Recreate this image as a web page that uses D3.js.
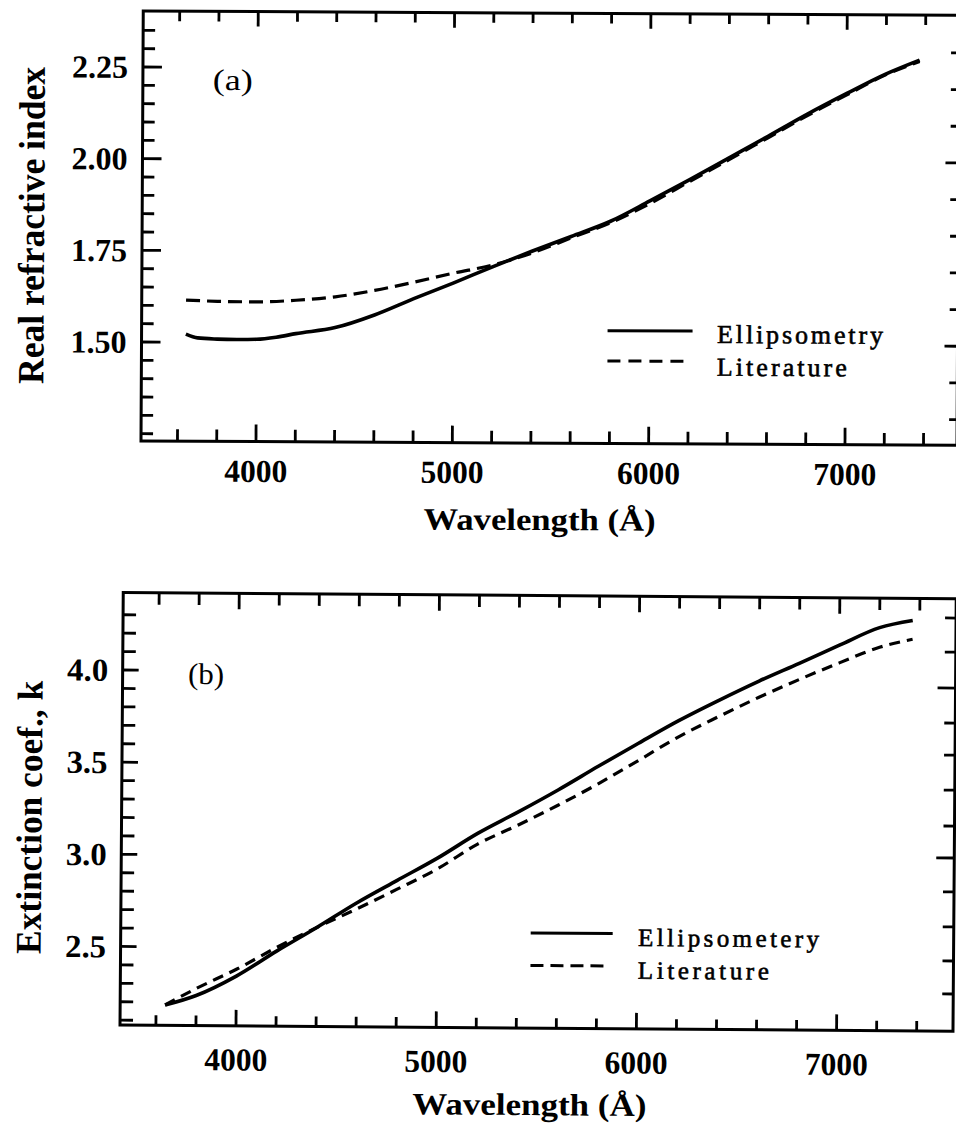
<!DOCTYPE html>
<html>
<head>
<meta charset="utf-8">
<script src="https://cdn.jsdelivr.net/npm/d3@7"></script>
<style>
  body { margin: 0; background: #fff; }
  text { fill: #000; }
</style>
</head>
<body>
<div id="chart"></div>
<script>
// ---- data ----

// (a) real refractive index
const wlEllA = [3640, 3700, 3800, 3900, 4000, 4100, 4200, 4400, 4600, 4800, 5000, 5200, 5400, 5600, 5800, 6000, 6200, 6400, 6600, 6800, 7000, 7200, 7370];
const nEll   = [1.522, 1.512, 1.509, 1.508, 1.509, 1.515, 1.525, 1.542, 1.577, 1.622, 1.665, 1.710, 1.753, 1.794, 1.836, 1.892, 1.950, 2.010, 2.070, 2.131, 2.188, 2.242, 2.280];
const wlLitA = [3640, 3800, 4000, 4200, 4400, 4600, 4800, 5000, 5200, 5400, 5600, 5800, 6000, 6200, 6400, 6600, 6800, 7000, 7200, 7370];
const nLit   = [1.615, 1.612, 1.611, 1.616, 1.626, 1.644, 1.667, 1.692, 1.715, 1.748, 1.790, 1.832, 1.885, 1.945, 2.005, 2.066, 2.127, 2.184, 2.240, 2.276];

// (b) extinction coefficient
const wlB  = [3645, 3800, 4000, 4200, 4400, 4600, 4800, 5000, 5200, 5400, 5600, 5800, 6000, 6200, 6400, 6600, 6800, 7000, 7200, 7365];
const kEll = [2.184, 2.237, 2.344, 2.481, 2.611, 2.747, 2.870, 2.992, 3.128, 3.245, 3.367, 3.497, 3.624, 3.748, 3.860, 3.966, 4.064, 4.164, 4.261, 4.301];
const kLit = [2.184, 2.275, 2.381, 2.501, 2.611, 2.714, 2.822, 2.934, 3.070, 3.174, 3.284, 3.402, 3.530, 3.660, 3.772, 3.878, 3.976, 4.068, 4.154, 4.199];

// ticks
const xMajor = [4000, 5000, 6000, 7000];
const xMinor = d3.range(3600, 7401, 200);
const yMajorA = [1.50, 1.75, 2.00, 2.25];
const yMinorA = d3.range(1.25, 2.351, 0.05);
const yRightA = d3.range(1.3, 2.31, 0.1);
const yRightMajorA = [1.5, 2.0];
const yMajorB = [2.5, 3.0, 3.5, 4.0];
const yMinorB = d3.range(2.1, 4.31, 0.1);
const yRightB = [4.316, 4.131, 3.936, 3.746, 3.572, 3.382, 3.187, 3.014, 2.830, 2.640, 2.455, 2.276];
const yRightMajorB = [3.936, 3.014];

const SERIF = "'Liberation Serif', 'Times New Roman', Times, 'DejaVu Serif', serif";

const svg = d3.select("#chart").append("svg")
  .attr("width", 956).attr("height", 1125);

const panels = [
  {
    tag: "(a)", ytitle: "Real refractive index", legend: ["Ellipsometry", "Literature"],
    left: 141, right: 957, top: 11, bottom: 441, angle: 0.30,
    xDomain: [3414.3, 7570.5], yDomain: [1.23, 2.4027],
    ell: wlEllA.map((w, i) => [w, nEll[i]]), lit: wlLitA.map((w, i) => [w, nLit[i]]),
    yMajor: yMajorA, yMinor: yMinorA, yRight: yRightA, yRightMajor: yRightMajorA, fmt: d3.format(".2f"),
    tick: {leftMaj: 19, leftMin: 12, botMaj: 17, botMin: 12, topMaj: 15, topMin: 10, rMaj: 13, rMin: 8},
    yLabelRight: 126, yLabelLen: 56, xLabelDy: 40.4, xTitleY: 528, xTitleX: 540, xTitleLen: 232,
    yTitleX: 43, yTitleY: 226, yTitleLen: 317, yTitleSize: 37,
    tagX: 211, tagY: 89.6, tagLen: 40, dash: "14,7",
    leg: {x1: 607, x2: 692, x2d: 686, y1: 328.2, y2: 358.5, tx: 716.5, ty1: 340, ty2: 372.7, size: 26, len1: 166, len2: 130, dash: "13,8"}
  },
  {
    tag: "(b)", ytitle: "Extinction coef., k", legend: ["Ellipsometery", "Literature"],
    left: 120, right: 953, top: 592.4, bottom: 1025, angle: 0.43,
    xDomain: [3420.6, 7581.4], yDomain: [2.0738, 4.4211],
    ell: wlB.map((w, i) => [w, kEll[i]]), lit: wlB.map((w, i) => [w, kLit[i]]),
    yMajor: yMajorB, yMinor: yMinorB, yRight: yRightB, yRightMajor: yRightMajorB, fmt: d3.format(".1f"),
    tick: {leftMaj: 16, leftMin: 13, botMaj: 16, botMin: 10, topMaj: 16, topMin: 12, rMaj: 18, rMin: 11},
    yLabelRight: 105.5, yLabelLen: 41, xLabelDy: 44.7, xTitleY: 1112, xTitleX: 530, xTitleLen: 234,
    yTitleX: 40, yTitleY: 818, yTitleLen: 273, yTitleSize: 36,
    tagX: 185.4, tagY: 683.5, tagLen: 36, dash: "11,7",
    leg: {x1: 530, x2: 612, x2d: 606, y1: 929.9, y2: 962.3, tx: 637.4, ty1: 942.1, ty2: 974.8, size: 25, len1: 181, len2: 131, dash: "13,7"}
  }
];

panels.forEach(p => {
  const x = d3.scaleLinear().domain(p.xDomain).range([p.left, p.right]);
  const y = d3.scaleLinear().domain(p.yDomain).range([p.bottom, p.top]);

  // the scanned figure is slightly rotated
  const g = svg.append("g")
    .attr("transform", `rotate(${p.angle},${p.left},${p.bottom})`);

  // frame
  g.append("rect")
    .attr("x", p.left).attr("y", p.top)
    .attr("width", p.right - p.left).attr("height", p.bottom - p.top)
    .attr("fill", "none").attr("stroke", "#000").attr("stroke-width", 3);

  const tk = g.append("g").attr("stroke", "#000").attr("stroke-width", 2.8);
  const isMajorX = v => xMajor.some(m => Math.abs(m - v) < 1e-6);
  const isMajorY = v => p.yMajor.some(m => Math.abs(m - v) < 1e-6);
  const isRightMajor = v => p.yRightMajor.some(m => Math.abs(m - v) < 1e-6);

  // bottom and top ticks
  tk.selectAll(".xb").data(xMinor).join("line")
    .attr("x1", d => x(d)).attr("x2", d => x(d))
    .attr("y1", p.bottom).attr("y2", d => p.bottom - (isMajorX(d) ? p.tick.botMaj : p.tick.botMin));
  tk.selectAll(".xt").data(xMinor).join("line")
    .attr("x1", d => x(d)).attr("x2", d => x(d))
    .attr("y1", p.top).attr("y2", d => p.top + (isMajorX(d) ? p.tick.topMaj : p.tick.topMin));
  // left ticks
  tk.selectAll(".yl").data(p.yMinor).join("line")
    .attr("y1", d => y(d)).attr("y2", d => y(d))
    .attr("x1", p.left).attr("x2", d => p.left + (isMajorY(d) ? p.tick.leftMaj : p.tick.leftMin));
  // right ticks
  tk.selectAll(".yr").data(p.yRight).join("line")
    .attr("y1", d => y(d)).attr("y2", d => y(d))
    .attr("x1", p.right).attr("x2", d => p.right - (isRightMajor(d) ? p.tick.rMaj : p.tick.rMin));

  // tick labels
  g.selectAll(".xlab").data(xMajor).join("text")
    .attr("x", d => x(d)).attr("y", p.bottom + p.xLabelDy)
    .attr("text-anchor", "middle")
    .style("font-family", SERIF).attr("font-weight", "bold")
    .attr("font-size", 32)
    .attr("textLength", 63).attr("lengthAdjust", "spacingAndGlyphs")
    .text(d => d);
  g.selectAll(".ylab").data(p.yMajor).join("text")
    .attr("x", p.yLabelRight).attr("y", d => y(d) + 11)
    .attr("text-anchor", "end")
    .style("font-family", SERIF).attr("font-weight", "bold")
    .attr("font-size", 32)
    .attr("textLength", p.yLabelLen).attr("lengthAdjust", "spacingAndGlyphs")
    .text(d => p.fmt(d));

  // axis titles
  g.append("text")
    .attr("x", p.xTitleX).attr("y", p.xTitleY)
    .attr("text-anchor", "middle")
    .style("font-family", SERIF).attr("font-weight", "bold")
    .attr("font-size", 31)
    .attr("textLength", p.xTitleLen).attr("lengthAdjust", "spacingAndGlyphs")
    .text("Wavelength (Å)");
  g.append("text")
    .attr("transform", `translate(${p.yTitleX},${p.yTitleY}) rotate(-90)`)
    .attr("text-anchor", "middle")
    .style("font-family", SERIF).attr("font-weight", "bold")
    .attr("font-size", p.yTitleSize)
    .attr("textLength", p.yTitleLen).attr("lengthAdjust", "spacingAndGlyphs")
    .text(p.ytitle);

  // panel tag
  g.append("text")
    .attr("x", p.tagX).attr("y", p.tagY)
    .style("font-family", SERIF).attr("font-size", 30)
    .attr("textLength", p.tagLen).attr("lengthAdjust", "spacingAndGlyphs")
    .text(p.tag);

  // curves
  const line = d3.line()
    .x(d => x(d[0])).y(d => y(d[1]))
    .curve(d3.curveMonotoneX);
  g.append("path").datum(p.lit)
    .attr("d", line)
    .attr("fill", "none").attr("stroke", "#000")
    .attr("stroke-width", 3.2).attr("stroke-dasharray", p.dash);
  g.append("path").datum(p.ell)
    .attr("d", line)
    .attr("fill", "none").attr("stroke", "#000")
    .attr("stroke-width", 3.6);

  // legend
  const L = p.leg;
  g.append("line")
    .attr("x1", L.x1).attr("x2", L.x2).attr("y1", L.y1).attr("y2", L.y1)
    .attr("stroke", "#000").attr("stroke-width", 3);
  g.append("line")
    .attr("x1", L.x1).attr("x2", L.x2d).attr("y1", L.y2).attr("y2", L.y2)
    .attr("stroke", "#000").attr("stroke-width", 3).attr("stroke-dasharray", L.dash);
  [p.legend[0], p.legend[1]].forEach((t, i) => {
    g.append("text")
      .attr("x", L.tx).attr("y", i === 0 ? L.ty1 : L.ty2)
      .style("font-family", SERIF).attr("font-size", L.size)
      .attr("stroke", "#000").attr("stroke-width", 0.6)
      .attr("textLength", i === 0 ? L.len1 : L.len2).attr("lengthAdjust", "spacing")
      .text(t);
  });
});
</script>
</body>
</html>
